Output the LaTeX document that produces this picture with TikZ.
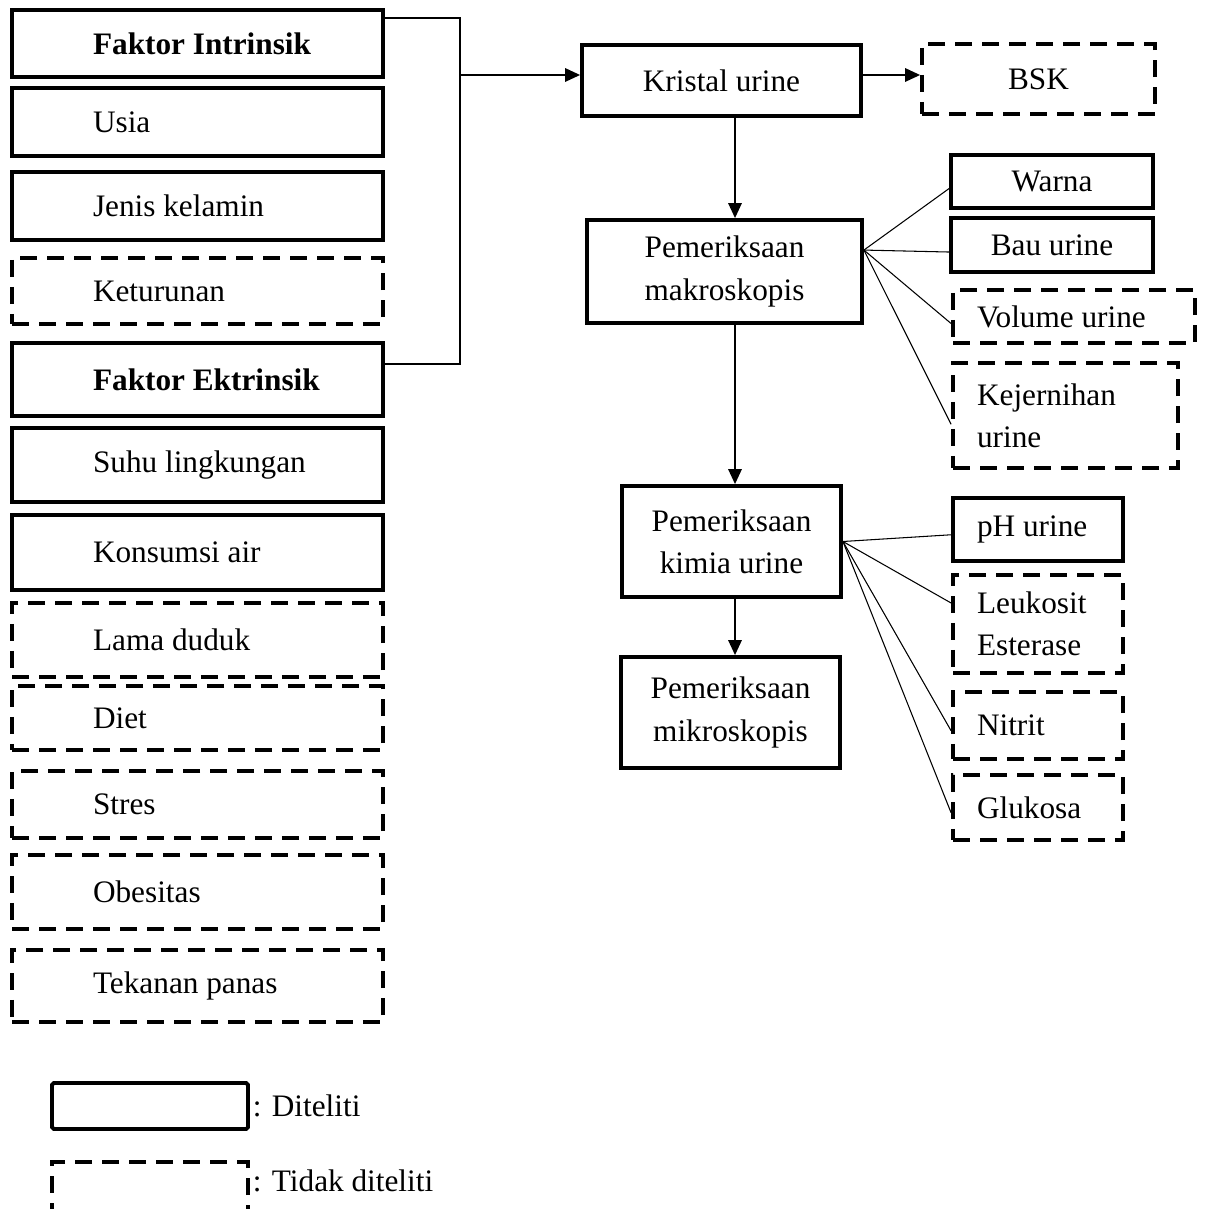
\documentclass[tikz,border=0pt]{standalone}
\usepackage{fontspec}
\setmainfont{Liberation Serif}
\usepackage{tikz}
\usetikzlibrary{
	arrows.meta,
	positioning,
	calc
}
\usepackage{xcolor}

\begin{document}
\begin{tikzpicture}[
		x=0.02cm, y=-0.02cm,
		font=\fontsize{17.8}{24}\selectfont,
		>={Triangle[length=0.3cm,width=0.27cm]},
		diteliti/.style={
			draw,
			line width=2.2pt,
			inner sep=2pt
		},
		tidakditeliti/.style={
			diteliti,
			dash pattern=on 0.34cm off 0.2cm
		},
		faktor/.style={
			text width=7.22cm,
			inner xsep=0.1cm,
			align=flush left,
			execute at begin node={\hspace*{1.52cm}}
		},
		kiri/.style={
			inner xsep=0.48cm,
			align=flush left
		},
		garis/.style={
			line width=0.6pt
		},
		panah/.style={
			->,
			line width=0.9pt
		}
		]
		
		\useasboundingbox (0,0) rectangle (1206,1209);
		
		% Faktor intrinsik
		\node[diteliti,faktor,minimum height=1.34cm] (intr) at (197.5,43.5) {\bfseries Faktor Intrinsik};
		\node[diteliti,faktor,minimum height=1.36cm] (usia) at (197.5,122) {Usia};
		\node[diteliti,faktor,minimum height=1.36cm] (jenis) at (197.5,206) {Jenis kelamin};
		\node[tidakditeliti,faktor,minimum height=1.32cm] (turun) at (197.5,291) {Keturunan};
		
		% Faktor ekstrinsik
		\node[diteliti,faktor,minimum height=1.46cm] (ektr) at (197.5,379.5) {\bfseries Faktor Ektrinsik};
		\node[diteliti,faktor,minimum height=1.48cm] (suhu) at (197.5,465) {Suhu lingkungan};
		\node[diteliti,faktor,minimum height=1.5cm] (air) at (197.5,552.5) {Konsumsi air};
		\node[tidakditeliti,faktor,minimum height=1.48cm] (duduk) at (197.5,640) {Lama duduk};
		\node[tidakditeliti,faktor,minimum height=1.28cm] (diet) at (197.5,718) {Diet};
		\node[tidakditeliti,faktor,minimum height=1.34cm] (stres) at (197.5,804.5) {Stres};
		\node[tidakditeliti,faktor,minimum height=1.48cm] (obes) at (197.5,892) {Obesitas};
		\node[tidakditeliti,faktor,minimum height=1.44cm] (panas) at (197.5,986) {Tekanan panas};
		
		% Alur pemeriksaan
		\node[diteliti,minimum width=5.58cm,minimum height=1.42cm] (kristal) at (721.5,80.5) {Kristal urine};
		\node[tidakditeliti,minimum width=4.66cm,minimum height=1.4cm] (bsk) at (1038.5,79) {BSK};
		\node[diteliti,align=center,minimum width=5.5cm,minimum height=2.06cm] (makro) at (724.5,271.5) {Pemeriksaan\\makroskopis};
		\node[diteliti,align=center,minimum width=4.38cm,minimum height=2.22cm] (kimia) at (731.5,541.5) {Pemeriksaan\\kimia urine};
		\node[diteliti,align=center,minimum width=4.38cm,minimum height=2.22cm] (mikro) at (730.5,712.5) {Pemeriksaan\\mikroskopis};
		
		% Makroskopis
		\node[diteliti,minimum width=4.04cm,minimum height=1.06cm] (warna) at (1052,181.5) {Warna};
		\node[diteliti,minimum width=4.04cm,minimum height=1.08cm] (bau) at (1052,245) {Bau urine};
		\node[tidakditeliti,kiri,text width=3.88cm,minimum height=1.06cm] (volume) at (1074,316.5) {Volume urine};
		\node[tidakditeliti,kiri,text width=3.54cm,minimum height=2.1cm] (jernih) at (1065.5,415.5) {Kejernihan\\urine};
		
		% Kimia
		\node[diteliti,kiri,text width=2.44cm,minimum height=1.26cm] (ph) at (1038,529.5) {pH urine};
		\node[tidakditeliti,kiri,text width=2.44cm,minimum height=1.96cm] (leuko) at (1038,624) {Leukosit\\Esterase};
		\node[tidakditeliti,kiri,text width=2.44cm,minimum height=1.34cm] (nitrit) at (1038,725.5) {Nitrit};
		\node[tidakditeliti,kiri,text width=2.44cm,minimum height=1.3cm] (gluko) at (1038,807.5) {Glukosa};
		
		% Connections
		\coordinate (siku1) at ([xshift=1.5cm,yshift=-0.2cm]intr.north east);
		\coordinate (siku2) at ([xshift=1.5cm,yshift=-0.46cm]ektr.north east);
		\draw[garis,line width=0.9pt] ([yshift=-0.2cm]intr.north east) -- (siku1) -- (siku2) -- ([yshift=-0.46cm]ektr.north east);
		\draw[panah] (siku1 |- 0,75) -- (kristal.west |- 0,75);
		\draw[panah] (kristal.east |- 0,75) -- (bsk.west |- 0,75);
		
		\coordinate (sumbu) at (735,0);
		\draw[panah] (kristal.south -| sumbu) -- (makro.north -| sumbu);
		\draw[panah] (makro.south -| sumbu) -- (kimia.north -| sumbu);
		\draw[panah] (kimia.south -| sumbu) -- (mikro.north -| sumbu);
		
		\coordinate (makroout) at ([yshift=-0.64cm]makro.north east);
		\foreach \n in {warna,bau,volume}
		\draw[garis] (makroout) -- ([yshift=-4pt]\n.west);
		\draw[garis] (makroout) -- ([yshift=-5pt]jernih.west);
		
		\draw[garis] (kimia.east) -- ([yshift=-3pt]ph.west);
		\draw[garis] (kimia.east) -- ([yshift=0.42cm]leuko.west);
		\draw[garis] (kimia.east) -- ([yshift=-3pt]nitrit.west);
		\draw[garis] (kimia.east) -- ([yshift=-3pt]gluko.west);
		
		% Keterangan
		\node[diteliti,rounded corners=1pt,minimum width=3.92cm,minimum height=0.92cm] (legdit) at (150,1106) {};
		\node[right=0.05cm of legdit,inner sep=0pt] (txtdit) {: Diteliti};
		\node[tidakditeliti,minimum width=3.92cm,minimum height=1.06cm] (legtdk) at (150,1188.5) {};
		\node[inner sep=0pt,anchor=west] (txttdk) at ([xshift=0.05cm,yshift=0.15cm]legtdk.east) {: Tidak diteliti};
		
	\end{tikzpicture}
\end{document}
